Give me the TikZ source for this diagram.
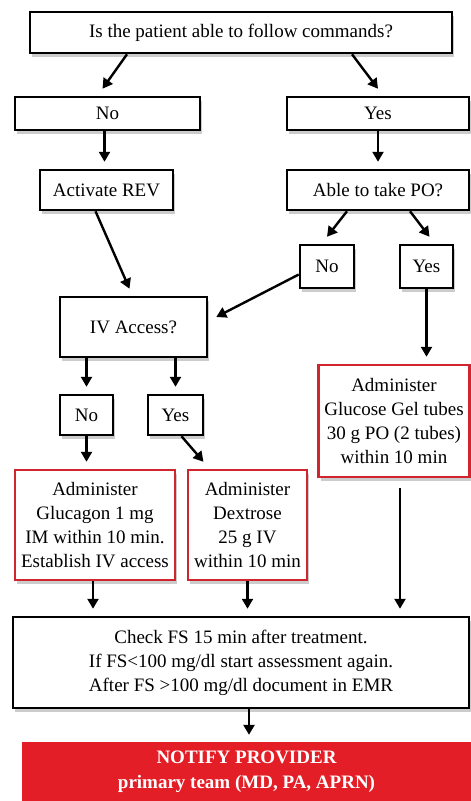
\documentclass[tikz,border=0pt]{standalone}
\usepackage{fontspec}
\setmainfont{Liberation Serif}
\usetikzlibrary{arrows.meta,shadows}
\definecolor{alertred}{RGB}{228,30,38}
\definecolor{boxred}{RGB}{208,36,46}

\begin{document}
\begin{tikzpicture}
  [x=1pt,y=-1pt,
   box/.style={draw,line width=2.5pt,fill=white,align=center,inner sep=0pt,
     drop shadow={shadow xshift=2pt,shadow yshift=-4pt,opacity=.4},
     font=\fontsize{19}{24}\selectfont},
   redbox/.style={box,draw=boxred},
   arr/.style={line width=2.4pt,-{Triangle[length=10pt,width=11pt]}}]
  \useasboundingbox (0,0) rectangle (471,801);

  \node (top)[box,minimum width=422pt,minimum height=41pt] at (241,32.5) {Is the patient able to follow commands?};
  \node (no1)[box,minimum width=185pt,minimum height=33pt] at (107.5,113.5) {No};
  \node (yes1)[box,minimum width=182pt,minimum height=33pt] at (378,113.5) {Yes};
  \node (rev)[box,minimum width=133pt,minimum height=40pt] at (106.5,190) {Activate REV};
  \node (po)[box,minimum width=182pt,minimum height=40pt] at (378,190) {Able to take PO?};
  \node (no2)[box,minimum width=54pt,minimum height=43pt] at (327,266.5) {No};
  \node (yes2)[box,minimum width=53pt,minimum height=43pt] at (426.5,266.5) {Yes};
  \node (iv)[box,minimum width=147pt,minimum height=60pt] at (133.5,327) {IV Access?};
  \node (gel)[redbox,minimum width=151pt,minimum height=112pt] at (394,421) {Administer\\Glucose Gel tubes\\30 g PO (2 tubes)\\within 10 min};
  \node (no3)[box,minimum width=53pt,minimum height=40pt] at (86.5,415) {No};
  \node (yes3)[box,minimum width=55pt,minimum height=40pt] at (175.5,415) {Yes};
  \node (glu)[redbox,minimum width=160pt,minimum height=110pt] at (95,525) {Administer\\Glucagon 1 mg\\IM within 10 min.\\Establish IV access};
  \node (dex)[redbox,minimum width=119pt,minimum height=110pt] at (247.5,525) {Administer\\Dextrose\\25 g IV\\within 10 min};
  \node (check)[box,minimum width=456pt,minimum height=91pt] at (241,662.5) {Check FS 15 min after treatment.\\If FS<100 mg/dl start assessment again.\\After FS >100 mg/dl document in EMR};
  \node (notify)[fill=alertred,text=white,align=center,inner sep=0pt,minimum width=449pt,minimum height=59pt,
    font=\fontsize{19}{25}\selectfont\bfseries] at (246.5,771.5) {NOTIFY PROVIDER\\primary team (MD, PA, APRN)};

  \draw[arr] ([xshift=-114pt]top.south) -- ([xshift=-5pt,yshift=7pt]no1.north);
  \draw[arr] ([xshift=111pt]top.south) -- ([yshift=7pt]yes1.north);
  \draw[arr] ([xshift=-3pt]no1.south) -- ([xshift=-2pt,yshift=7pt]rev.north);
  \draw[arr] (yes1.south) -- ([yshift=7pt]po.north);
  \draw[arr] ([xshift=-31pt]po.south) -- ([yshift=7pt]no2.north);
  \draw[arr] ([xshift=32pt]po.south) -- ([xshift=3pt,yshift=7pt]yes2.north);
  \draw[arr] ([xshift=-11pt]rev.south) -- ([xshift=-4pt,yshift=7pt]iv.north);
  \draw[arr] ([yshift=-8pt]no2.west) -- ([xshift=8pt,yshift=10pt]iv.east);
  \draw[arr,shorten >=7pt] (yes2.south) -- (yes2.south |- gel.north);
  \draw[arr,shorten >=7pt] (no3.north |- iv.south) -- (no3.north);
  \draw[arr,shorten >=7pt] (yes3.north |- iv.south) -- (yes3.north);
  \draw[arr,shorten >=7pt] (no3.south) -- (no3.south |- glu.north);
  \draw[arr] ([xshift=6pt]yes3.south) -- ([xshift=-44pt,yshift=7pt]dex.north);
  \draw[arr,shorten >=7pt] ([xshift=-2pt]glu.south) -- ([xshift=-2pt]glu.south |- check.north);
  \draw[arr,shorten >=7pt] (dex.south) -- (dex.south |- check.north);
  \draw[arr,shorten <=10pt,shorten >=7pt] ([xshift=6pt]gel.south) -- ([xshift=6pt]gel.south |- check.north);
  \draw[arr,shorten >=7pt] ([xshift=8pt]check.south) -- ([xshift=8pt]check.south |- notify.north);
\end{tikzpicture}
\end{document}
